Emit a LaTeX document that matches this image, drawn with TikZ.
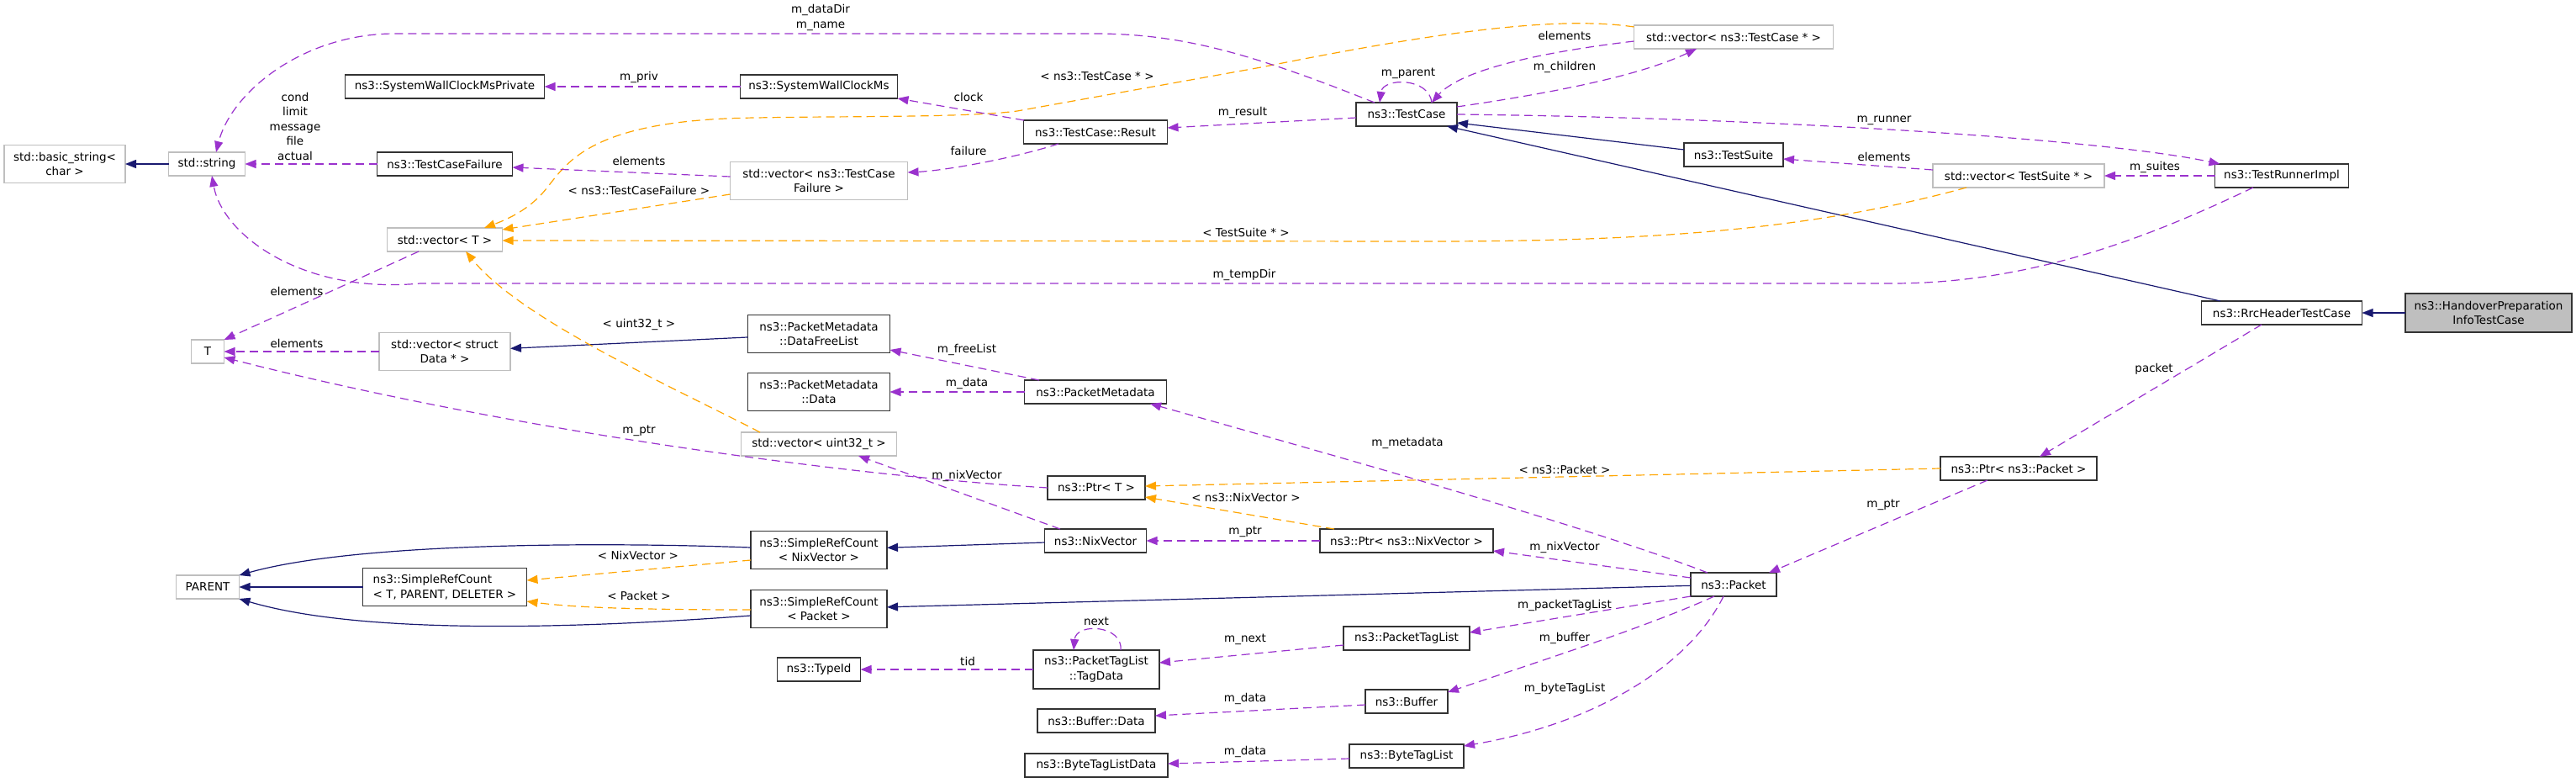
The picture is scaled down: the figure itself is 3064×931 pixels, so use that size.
\documentclass[tikz,border=0pt]{standalone}
\usepackage{fontspec}
\setmainfont{DejaVu Sans}
\usetikzlibrary{arrows.meta}
\definecolor{memc}{HTML}{9A32CD}
\definecolor{tmplc}{HTML}{FFA500}
\definecolor{inhc}{HTML}{191970}
\definecolor{extc}{HTML}{BFBFBF}
\definecolor{mainfill}{HTML}{BFBFBF}
\definecolor{docc}{HTML}{333333}
\begin{document}
\begin{tikzpicture}[x=1pt,y=-1pt,
 every node/.style={font=\fontsize{13.5}{17.5}\selectfont, inner sep=0pt, outer sep=0pt},
 doc/.style={draw=docc, line width=1.3pt, minimum height=28pt, align=center},
 ext/.style={draw=extc, line width=1.3pt, minimum height=28pt, align=center},
 two/.style={minimum height=45pt},
 lbl/.style={align=center},
 tipa/.style={-{Triangle[length=13pt,width=10pt]}},
 mem/.style={draw=memc, line width=1.2pt, dash pattern=on 10pt off 6pt, tipa},
 tmpl/.style={draw=tmplc, line width=1.2pt, dash pattern=on 10pt off 6pt, tipa},
 inh/.style={draw=inhc, line width=1.2pt, tipa}]
\useasboundingbox (0,0) rectangle (3064,931);

% ---------- nodes ----------
\node[ext, two, minimum width=144pt] (basic) at (77,195) {std::basic\_string<\\char >};
\node[ext, minimum width=91pt] (string) at (246,195) {std::string};
\node[doc, minimum width=237pt] (swcmp) at (529,103) {ns3::SystemWallClockMsPrivate};
\node[doc, minimum width=161pt] (tcf) at (529,195) {ns3::TestCaseFailure};
\node[ext, minimum width=137pt] (vecT) at (529,285) {std::vector< T >};
\node[doc, minimum width=187pt] (swcm) at (974,103) {ns3::SystemWallClockMs};
\node[doc, minimum width=171pt] (result) at (1303,157) {ns3::TestCase::Result};
\node[ext, two, minimum width=211pt] (vecTCF) at (974,215) {std::vector< ns3::TestCase\\Failure >};
\node[doc, minimum width=120pt] (testcase) at (1673,136) {ns3::TestCase};
\node[ext, minimum width=237pt] (vecTC) at (2062,44) {std::vector< ns3::TestCase * >};
\node[doc, minimum width=118pt] (suite) at (2062,184) {ns3::TestSuite};
\node[ext, minimum width=204pt] (vecTS) at (2401,209) {std::vector< TestSuite * >};
\node[doc, minimum width=159pt] (runner) at (2714,209) {ns3::TestRunnerImpl};
\node[doc, minimum width=191pt] (rrc) at (2714,372) {ns3::RrcHeaderTestCase};
\node[doc, two, fill=mainfill, minimum width=198pt, minimum height=46pt] (handover) at (2960,372) {ns3::HandoverPreparation\\InfoTestCase};
\node[ext, minimum width=39pt] (T) at (247,418) {T};
\node[ext, two, minimum width=156pt] (vecData) at (529,418) {std::vector< struct\\Data * >};
\node[doc, two, minimum width=169pt] (freelist) at (974,397) {ns3::PacketMetadata\\::DataFreeList};
\node[doc, two, minimum width=169pt] (pmdata) at (974,466) {ns3::PacketMetadata\\::Data};
\node[doc, minimum width=169pt] (pm) at (1303,466) {ns3::PacketMetadata};
\node[ext, minimum width=185pt] (vecU) at (974,528) {std::vector< uint32\_t >};
\node[doc, minimum width=116pt] (ptrT) at (1304,580) {ns3::Ptr< T >};
\node[doc, minimum width=121pt] (nix) at (1303,643) {ns3::NixVector};
\node[doc, minimum width=206pt] (ptrNix) at (1673,643) {ns3::Ptr< ns3::NixVector >};
\node[doc, minimum width=186pt] (ptrPacket) at (2401,557) {ns3::Ptr< ns3::Packet >};
\node[doc, minimum width=102pt] (packet) at (2062,695) {ns3::Packet};
\node[ext, minimum width=75pt] (parent) at (247,698) {PARENT};
\node[doc, two, minimum width=195pt, align=left] (srcT) at (529,698) {ns3::SimpleRefCount\\< T, PARENT, DELETER >};
\node[doc, two, minimum width=162pt] (srcNix) at (974,654) {ns3::SimpleRefCount\\< NixVector >};
\node[doc, two, minimum width=162pt] (srcPacket) at (974,724) {ns3::SimpleRefCount\\< Packet >};
\node[doc, minimum width=99pt] (typeid) at (974,796) {ns3::TypeId};
\node[doc, two, minimum width=150pt, minimum height=46pt] (tagdata) at (1304,796) {ns3::PacketTagList\\::TagData};
\node[doc, minimum width=150pt] (ptl) at (1673,759) {ns3::PacketTagList};
\node[doc, minimum width=98pt] (buffer) at (1673,834) {ns3::Buffer};
\node[doc, minimum width=140pt] (bufdata) at (1304,857) {ns3::Buffer::Data};
\node[doc, minimum width=136pt] (btl) at (1673,899) {ns3::ByteTagList};
\node[doc, minimum width=170pt] (btldata) at (1304,910) {ns3::ByteTagListData};

% ---------- inheritance ----------
\draw[inh] (string) -- (basic);
\draw[inh] ([yshift=6pt]suite.west) -- ([yshift=-10pt]testcase.east);
\draw[inh] ([xshift=-73pt]rrc.north) -- ([xshift=48pt]testcase.south);
\draw[inh] (handover) -- (rrc);
\draw[inh] (freelist) -- (vecData);
\draw[inh] (nix) -- (srcNix);
\draw[inh] (packet) -- (srcPacket);
\draw[inh] (srcT) -- (parent);
\draw[inh] ([yshift=3pt]srcNix.west) .. controls (700,644) and (420,646) .. (parent.north east);
\draw[inh] ([yshift=-8pt]srcPacket.west) .. controls (650,750) and (420,752) .. (parent.south east);

% ---------- template instantiation ----------
\draw[tmpl] ([yshift=-2pt]vecTC.north west) .. controls (1850,18) and (1700,40) .. (1500,80)
  -- (1210,132) .. controls (1150,140) and (1000,138) .. (900,140)
  .. controls (690,142) and (672,200) .. (645,230) .. controls (625,252) and (600,262) .. ([xshift=47pt]vecT.north);
\draw[tmpl] ([yshift=-16pt]vecTCF.west) -- ([yshift=12pt]vecT.east);
\draw[tmpl] ([xshift=-62pt]vecTS.south) .. controls (2150,275) and (1950,287) .. (1700,287) -- ([yshift=-1pt]vecT.east);
\draw[tmpl] ([xshift=-70pt]vecU.north) .. controls (800,460) and (620,380) .. ([xshift=25pt]vecT.south);
\draw[tmpl] (ptrPacket.west) -- ([yshift=2pt]ptrT.east);
\draw[tmpl] ([xshift=-86pt]ptrNix.north) -- ([yshift=-11pt]ptrT.east);
\draw[tmpl] ([yshift=-12pt]srcNix.west) -- ([yshift=8pt]srcT.east);
\draw[tmpl] ([yshift=-1pt]srcPacket.west) .. controls (750,725) and (680,722) .. ([yshift=-17pt]srcT.east);

% ---------- members ----------
\draw[mem] (tcf) -- (string);
\draw[mem] ([xshift=-38pt]testcase.north) .. controls (1480,60) and (1400,40) .. (1300,40)
  -- (470,40) .. controls (360,40) and (275,110) .. ([xshift=11pt]string.north);
\draw[mem] ([xshift=-34pt]runner.south) .. controls (2560,280) and (2420,337) .. (2250,337)
  -- (500,337) .. controls (360,350) and (265,280) .. ([xshift=6pt]string.south);
\draw[mem] ([xshift=-31pt]vecT.south) -- (T.north east);
\draw[mem] (vecData) -- (T);
\draw[mem] (ptrT.west) .. controls (1000,565) and (600,510) .. ([yshift=-7pt]T.east);
\draw[mem] ([xshift=-67pt]pm.north) -- ([yshift=-19pt]freelist.east);
\draw[mem] (pm) -- (pmdata);
\draw[mem] ([xshift=-31pt]packet.north) .. controls (1900,630) and (1600,545) .. ([xshift=65pt]pm.south);
\draw[mem] ([xshift=-42pt]nix.north) -- ([xshift=47pt]vecU.south);
\draw[mem] (ptrNix) -- (nix);
\draw[mem] ([yshift=8pt]packet.west) -- ([yshift=-12pt]ptrNix.east);
\draw[mem] ([xshift=-24pt]rrc.south) -- ([xshift=25pt]ptrPacket.north);
\draw[mem] ([xshift=-37pt]ptrPacket.south) -- ([xshift=42pt]packet.north);
\draw[mem] (tagdata) -- (typeid);
\draw[mem] ([xshift=29pt]tagdata.north) .. controls (1336,743) and (1280,740) .. ([xshift=-27pt]tagdata.north);
\draw[mem] ([yshift=-8pt]ptl.west) -- ([yshift=8pt]tagdata.east);
\draw[mem] (packet.south west) -- ([yshift=7pt]ptl.east);
\draw[mem] ([xshift=-23pt]packet.south) .. controls (1960,745) and (1820,790) .. ([yshift=11pt]buffer.east);
\draw[mem] ([yshift=-4pt]buffer.west) -- ([yshift=6pt]bufdata.east);
\draw[mem] ([xshift=-12pt]packet.south) .. controls (2010,790) and (1900,860) .. ([yshift=12pt]btl.east);
\draw[mem] ([yshift=-3pt]btl.west) -- ([yshift=2pt]btldata.east);
\draw[mem] ([yshift=-4pt]testcase.west) -- ([yshift=5pt]result.east);
\draw[mem] ([xshift=-85pt]result.north) -- (swcm.south east);
\draw[mem] (swcm) -- (swcmp);
\draw[mem] ([xshift=-44pt]result.south) .. controls (1200,190) and (1120,203) .. ([yshift=10pt]vecTCF.east);
\draw[mem] ([yshift=5pt]vecTCF.west) -- ([yshift=-4pt]tcf.east);
\draw[mem] ([xshift=30pt]testcase.north) .. controls (1700,92) and (1645,92) .. ([xshift=-32pt]testcase.north);
\draw[mem] ([yshift=-5pt]vecTC.west) .. controls (1850,60) and (1740,80) .. ([xshift=30pt]testcase.north);
\draw[mem] ([yshift=9pt]testcase.east) .. controls (1850,110) and (1950,90) .. ([xshift=-44pt]vecTC.south);
\draw[mem] (testcase.east) .. controls (2100,140) and (2500,165) .. ([xshift=6pt]runner.north west);
\draw[mem] ([yshift=7pt]vecTS.west) -- ([yshift=-5pt]suite.east);
\draw[mem] (runner) -- (vecTS);

% ---------- labels ----------
\node[lbl] (l1) at (351,150) {cond\\limit\\message\\file\\actual};
\node[lbl] (l2) at (976,21) {m\_dataDir\\m\_name};
\node[lbl] (l3) at (760,92) {m\_priv};
\node[lbl] (l4) at (1305,91) {< ns3::TestCase * >};
\node[lbl] (l5) at (1152,115) {clock};
\node[lbl] (l6) at (1152,179) {failure};
\node[lbl] (l7) at (760,191) {elements};
\node[lbl] (l8) at (760,226) {< ns3::TestCaseFailure >};
\node[lbl] (l9) at (1482,276) {< TestSuite * >};
\node[lbl] (l10) at (1675,87) {m\_parent};
\node[lbl] (l11) at (1861,42) {elements};
\node[lbl] (l12) at (1861,80) {m\_children};
\node[lbl] (l13) at (2241,143) {m\_runner};
\node[lbl] (l14) at (2241,186) {elements};
\node[lbl] (l15) at (2563,199) {m\_suites};
\node[lbl] (l16) at (2562,439) {packet};
\node[lbl] (l17) at (1478,134) {m\_result};
\node[lbl] (l18) at (1480,327) {m\_tempDir};
\node[lbl] (l19) at (353,346) {elements};
\node[lbl] (l20) at (353,408) {elements};
\node[lbl] (l21) at (760,386) {< uint32\_t >};
\node[lbl] (l22) at (1150,416) {m\_freeList};
\node[lbl] (l23) at (1150,456) {m\_data};
\node[lbl] (l24) at (760,512) {m\_ptr};
\node[lbl] (l25) at (1150,566) {m\_nixVector};
\node[lbl] (l26) at (1482,591) {< ns3::NixVector >};
\node[lbl] (l27) at (1674,527) {m\_metadata};
\node[lbl] (l28) at (1861,558) {< ns3::Packet >};
\node[lbl] (l29) at (2240,600) {m\_ptr};
\node[lbl] (l30) at (1481,632) {m\_ptr};
\node[lbl] (l31) at (1861,651) {m\_nixVector};
\node[lbl] (l32) at (759,660) {< NixVector >};
\node[lbl] (l33) at (760,708) {< Packet >};
\node[lbl] (l34) at (1861,720) {m\_packetTagList};
\node[lbl] (l35) at (1304,739) {next};
\node[lbl] (l36) at (1481,760) {m\_next};
\node[lbl] (l37) at (1861,759) {m\_buffer};
\node[lbl] (l38) at (1151,786) {tid};
\node[lbl] (l39) at (1481,831) {m\_data};
\node[lbl] (l40) at (1861,819) {m\_byteTagList};
\node[lbl] (l41) at (1481,894) {m\_data};
\end{tikzpicture}
\end{document}
